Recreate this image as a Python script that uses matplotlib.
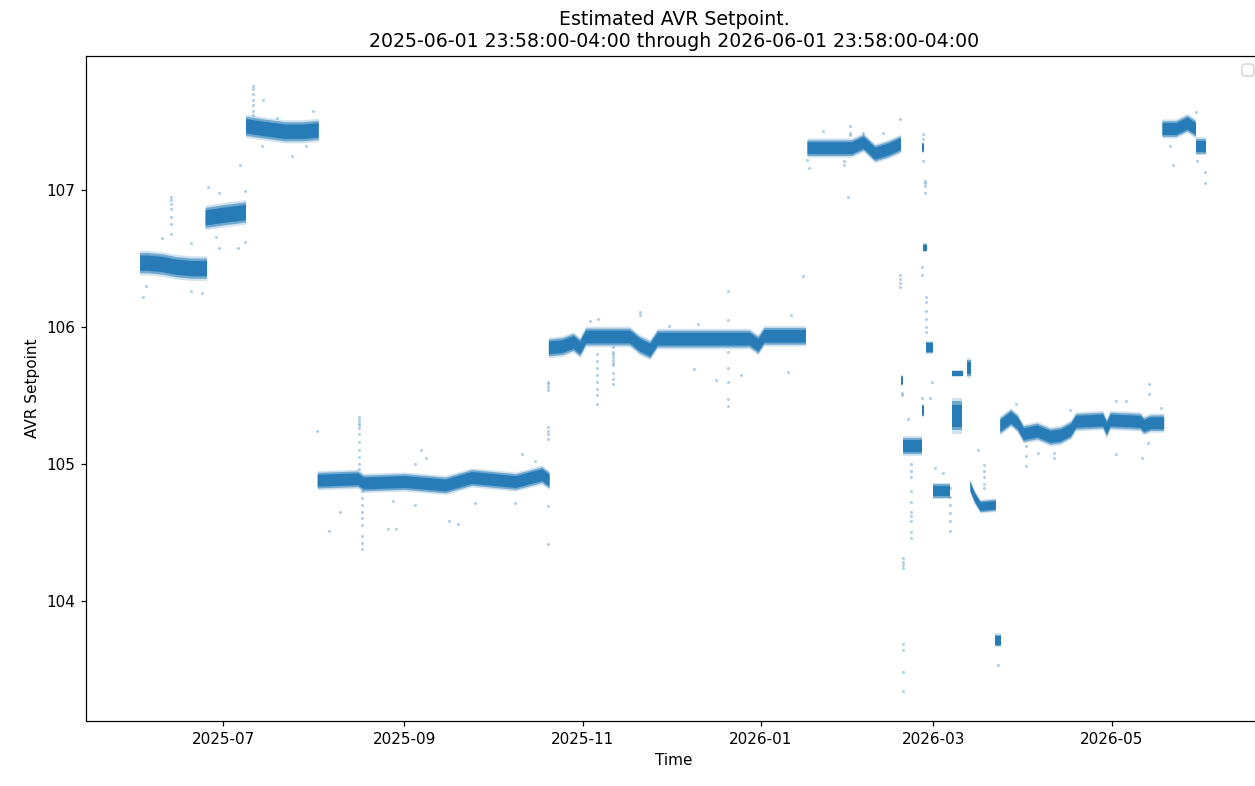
import numpy as np
import pandas as pd
import matplotlib
matplotlib.use('Agg')
from matplotlib import pyplot as plt
from matplotlib import dates as mdates
from matplotlib.ticker import MultipleLocator

# Dense operating levels: sample dates, centre setpoint, half-width of the scatter
jun_dates = ['2025-06-02 08:00', '2025-06-05', '2025-06-10', '2025-06-15', '2025-06-20', '2025-06-25 06:00']
jun_vals = [106.47, 106.47, 106.46, 106.44, 106.43, 106.43]
jul_a_dates = ['2025-06-24 18:00', '2025-07-01', '2025-07-08 14:00']
jul_a_vals = [106.80, 106.82, 106.84]
jul_b_dates = ['2025-07-08 14:00', '2025-07-15', '2025-07-22', '2025-07-28', '2025-08-02 12:00']
jul_b_vals = [107.47, 107.45, 107.43, 107.43, 107.44]
aug_oct_dates = ['2025-08-02 03:00', '2025-08-16', '2025-08-18', '2025-09-01', '2025-09-15',
                 '2025-09-24', '2025-10-09', '2025-10-18', '2025-10-20 12:00']
aug_oct_vals = [104.88, 104.89, 104.86, 104.87, 104.845, 104.90, 104.87, 104.92, 104.88]
oct_jan_dates = ['2025-10-20 06:00', '2025-10-25', '2025-10-28 18:00', '2025-10-31', '2025-11-02',
                 '2025-11-17', '2025-11-20 12:00', '2025-11-24', '2025-11-26 12:00', '2025-12-28',
                 '2025-12-31', '2026-01-02', '2026-01-16 06:00']
oct_jan_vals = [105.85, 105.86, 105.89, 105.85, 105.93, 105.93, 105.87, 105.835, 105.915, 105.915,
                105.87, 105.935, 105.935]
jan_feb_dates = ['2026-01-16 18:00', '2026-02-01', '2026-02-05', '2026-02-09', '2026-02-13 12:00',
                 '2026-02-17 18:00']
jan_feb_vals = [107.31, 107.31, 107.35, 107.27, 107.30, 107.34]
mar_may_dates = ['2026-03-23 18:00', '2026-03-27 12:00', '2026-03-29 18:00', '2026-03-31 20:00',
                 '2026-04-05 12:00', '2026-04-10', '2026-04-13 12:00', '2026-04-17', '2026-04-18 18:00',
                 '2026-04-28', '2026-04-29 06:00', '2026-04-30 12:00', '2026-05-10 18:00', '2026-05-12',
                 '2026-05-14 06:00', '2026-05-18 20:00']
mar_may_vals = [105.28, 105.34, 105.30, 105.22, 105.24, 105.20, 105.21, 105.25, 105.31, 105.32,
                105.26, 105.32, 105.31, 105.28, 105.30, 105.30]
may_dates = ['2026-05-18 06:00', '2026-05-23', '2026-05-26 20:00', '2026-05-29 18:00']
may_vals = [107.45, 107.45, 107.49, 107.45]
jun26_dates = ['2026-05-29 18:00', '2026-06-02 12:00']
jun26_vals = [107.32, 107.32]

# short-lived clusters during the Feb/Mar 2026 hunting period: start, end, level, half-width
short_start = ['2026-02-18', '2026-02-18 18:00', '2026-02-25', '2026-02-25 12:00', '2026-02-25 06:00',
               '2026-02-26 12:00', '2026-02-28 18:00', '2026-03-07 06:00', '2026-03-07 06:00',
               '2026-03-12 12:00', '2026-03-22 06:00']
short_end = ['2026-02-18 18:00', '2026-02-25', '2026-02-25 18:00', '2026-02-26 18:00', '2026-02-25 20:00',
             '2026-03-01', '2026-03-06 18:00', '2026-03-10 18:00', '2026-03-11 06:00',
             '2026-03-13 18:00', '2026-03-24']
short_level = [105.61, 105.13, 105.39, 106.58, 107.31, 105.85, 104.80, 105.35, 105.66, 105.70, 103.71]
short_spread = [0.04, 0.07, 0.05, 0.035, 0.04, 0.05, 0.06, 0.13, 0.025, 0.07, 0.05]
drift_dates = ['2026-03-13 12:00', '2026-03-15', '2026-03-17', '2026-03-22 06:00']
drift_vals = [104.84, 104.76, 104.69, 104.70]

# sparse samples away from the main levels
streak_dates = [
    '2025-06-13 05:00', '2025-06-03 16:00', '2025-06-04 10:00', '2025-06-19 19:00', '2025-06-23 14:00',
    '2025-06-09 22:00', '2025-06-19 22:00', '2025-06-25 16:00', '2025-06-29 12:00', '2025-06-28 14:00',
    '2025-07-06 14:00', '2025-07-06 02:00', '2025-07-08 10:00', '2025-07-11 07:00', '2025-07-14 12:00',
    '2025-07-14 02:00', '2025-07-24 10:00', '2025-07-29 05:00', '2025-07-31 17:00', '2025-07-19 12:00',
    '2025-08-02 02:00', '2025-08-16 10:00', '2025-08-17 12:00', '2025-08-06 05:00', '2025-08-10 02:00',
    '2025-08-26 05:00', '2025-08-29 02:00', '2025-08-28 02:00', '2025-09-04 12:00', '2025-09-06 14:00',
    '2025-09-08 12:00', '2025-09-16 02:00', '2025-09-19 05:00', '2025-09-25 07:00', '2025-10-11 05:00',
    '2025-10-15 19:00', '2025-10-08 22:00', '2025-10-20 05:00', '2025-11-05 19:00', '2025-11-11 07:00',
    '2025-11-20 14:00', '2025-11-06 07:00', '2025-12-20 14:00', '2025-12-09 00:00', '2025-12-16 14:00',
    '2025-12-25 05:00', '2026-01-10 07:00', '2026-01-11 10:00', '2025-12-10 14:00', '2025-11-30 10:00',
    '2025-11-03 14:00', '2026-01-15 12:00', '2026-02-17 12:00', '2026-01-31 12:00', '2026-01-29 12:00',
    '2026-01-30 19:00', '2026-01-17 14:00', '2026-01-16 17:00', '2026-01-22 05:00', '2026-02-05 00:00',
    '2026-02-11 19:00', '2026-02-08 10:00', '2026-02-25 08:00', '2026-02-26 00:00', '2026-02-17 14:00',
    '2026-02-18 03:00', '2026-02-18 17:00', '2026-02-21 05:00', '2026-02-20 10:00', '2026-02-25 07:00',
    '2026-02-26 14:00', '2026-02-28 17:00', '2026-02-27 19:00', '2026-03-01 14:00', '2026-03-04 05:00',
    '2026-03-06 19:00', '2026-03-16 10:00', '2026-03-18 07:00', '2026-03-23 00:00', '2026-03-29 07:00',
    '2026-04-01 14:00', '2026-04-11 10:00', '2026-04-06 00:00', '2026-04-16 17:00', '2026-05-02 10:00',
    '2026-05-05 19:00', '2026-05-13 19:00', '2026-05-18 00:00', '2026-05-11 07:00', '2026-05-13 10:00',
    '2026-05-22 02:00', '2026-06-01 22:00', '2026-05-29 19:00', '2026-05-21 00:00', '2026-05-30 07:00',
]
streak_vals = [
    [106.95, 106.93, 106.90, 106.86, 106.80, 106.75, 106.68], [106.22], [106.30], [106.26], [106.25],
    [106.65], [106.61], [107.02], [106.98, 106.58], [106.66],
    [107.18], [106.58], [106.99, 106.62], [107.76, 107.74, 107.70, 107.66, 107.62, 107.58, 107.55], [107.66],
    [107.32], [107.25], [107.32], [107.58], [107.53],
    [105.24], [105.34, 105.32, 105.30, 105.28, 105.26, 105.22, 105.16, 105.10, 105.05, 105.00, 104.96],
    [104.80, 104.75, 104.70, 104.65, 104.60, 104.55, 104.47, 104.42, 104.38], [104.51], [104.65],
    [104.52], [104.52], [104.73], [104.70, 105.00], [105.10],
    [105.04], [104.58], [104.56], [104.71], [105.07],
    [105.02], [104.71], [105.60, 105.58, 105.56, 105.54, 105.27, 105.24, 105.22, 105.18, 104.69, 104.41],
    [105.80, 105.75, 105.70, 105.65, 105.60, 105.55, 105.50, 105.44],
    [105.85, 105.82, 105.80, 105.78, 105.76, 105.74, 105.72, 105.66, 105.62, 105.58],
    [106.11, 106.09], [106.06], [106.26, 106.05, 105.82, 105.70, 105.60, 105.47, 105.42], [105.69], [105.61],
    [105.65], [105.67], [106.09], [106.02], [106.01],
    [106.04], [106.37], [107.52], [107.47, 107.42, 107.40], [107.21, 107.18],
    [106.95], [107.16], [107.22], [107.43], [107.42],
    [107.42], [107.24], [107.41, 107.37, 107.21], [107.07, 107.05, 107.03, 106.98], [106.38, 106.35, 106.32, 106.29],
    [105.52, 105.50], [104.31, 104.28, 104.26, 104.24, 103.68, 103.64, 103.48, 103.34],
    [105.00, 104.95, 104.90, 104.80, 104.72, 104.65, 104.62, 104.58, 104.50, 104.46], [105.33],
    [105.48, 106.44, 106.38],
    [106.22, 106.18, 106.12, 106.06, 106.00, 105.96], [105.60], [105.48], [104.97], [104.93],
    [104.82, 104.76, 104.70, 104.64, 104.58, 104.51], [105.10], [104.99, 104.95, 104.90, 104.85, 104.82],
    [103.53], [105.44],
    [104.98, 105.13, 105.06], [105.08, 105.04], [105.08], [105.39], [105.46, 105.07],
    [105.46], [105.58, 105.51], [105.41], [105.04], [105.15],
    [107.18], [107.13, 107.05], [107.57], [107.32], [107.21],
]

C0 = '#1f77b4'


def draw_band(ax, dates, vals, spread):
    t = pd.to_datetime(dates, format='ISO8601')
    v = np.asarray(vals)
    # stacked translucent layers give the dense core and soft edges of the scatter
    for frac, a in [(1.0, 0.2), (0.82, 0.55), (0.62, 0.9)]:
        ax.fill_between(t, v - frac * spread, v + frac * spread, color=C0, alpha=a, lw=0)


fig = plt.figure(figsize=(1255 / 110, 786 / 110), dpi=110)
ax = fig.add_axes([86 / 1255, 65 / 786, 1176 / 1255, 665 / 786])

draw_band(ax, jun_dates, jun_vals, 0.09)
draw_band(ax, jul_a_dates, jul_a_vals, 0.09)
draw_band(ax, jul_b_dates, jul_b_vals, 0.085)
draw_band(ax, aug_oct_dates, aug_oct_vals, 0.07)
draw_band(ax, oct_jan_dates, oct_jan_vals, 0.075)
draw_band(ax, jan_feb_dates, jan_feb_vals, 0.07)
draw_band(ax, mar_may_dates, mar_may_vals, 0.07)
draw_band(ax, may_dates, may_vals, 0.07)
draw_band(ax, jun26_dates, jun26_vals, 0.065)
draw_band(ax, drift_dates, drift_vals, 0.05)
for s, e, lvl, sp in zip(short_start, short_end, short_level, short_spread):
    draw_band(ax, [s, e], [lvl, lvl], sp)

xs, ys = [], []
for d, vals in zip(streak_dates, streak_vals):
    xs += [pd.Timestamp(d)] * len(vals)
    ys += vals
ax.scatter(xs, ys, s=4, color=C0, alpha=0.35, linewidths=0)

ax.set_xlim(pd.Timestamp('2025-05-15'), pd.Timestamp('2026-06-21 12:00'))
ax.set_ylim(103.12, 107.98)
ax.xaxis.set_major_locator(mdates.MonthLocator(bymonth=[1, 3, 5, 7, 9, 11]))
ax.xaxis.set_major_formatter(mdates.DateFormatter('%Y-%m'))
ax.yaxis.set_major_locator(MultipleLocator(1))

ax.set_title('Estimated AVR Setpoint.\n2025-06-01 23:58:00-04:00 through 2026-06-01 23:58:00-04:00',
             fontsize=12.4)
ax.set_xlabel('Time')
ax.set_ylabel('AVR Setpoint')
ax.legend()

fig.savefig('out.png', dpi=110)
